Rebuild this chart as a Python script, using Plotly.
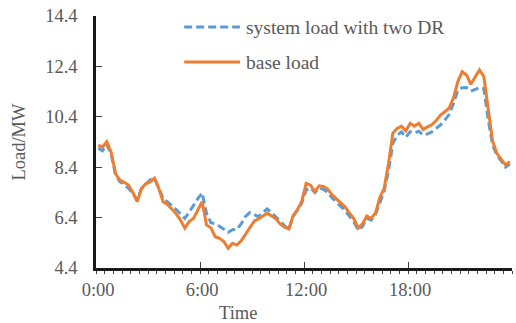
import plotly.graph_objects as go

# 15-minute time slots over one day (hours, slot centres)
hours = [i * 0.25 for i in range(96)]
tick_hours = [0, 6, 12, 18]
tick_labels = ["0:00", "6:00", "12:00", "18:00"]
y_ticks = [4.4, 6.4, 8.4, 10.4, 12.4, 14.4]

base_load = [
    9.28, 9.20, 9.41, 9.00, 8.15, 7.89, 7.80, 7.69, 7.40, 7.03, 7.55, 7.75,
    7.82, 7.96, 7.55, 7.03, 6.92, 6.75, 6.55, 6.30, 5.98, 6.24, 6.37, 6.70,
    7.03, 6.11, 6.00, 5.64, 5.58, 5.45, 5.18, 5.38, 5.31, 5.48, 5.75, 6.02,
    6.26, 6.35, 6.45, 6.57, 6.47, 6.35, 6.15, 6.02, 5.95, 6.48, 6.72, 7.05,
    7.76, 7.69, 7.43, 7.66, 7.64, 7.52, 7.30, 7.15, 7.00, 6.82, 6.58, 6.36,
    5.98, 6.15, 6.46, 6.37, 6.58, 7.20, 7.56, 8.55, 9.75, 9.94, 10.03, 9.84,
    10.14, 10.03, 10.14, 9.90, 10.00, 10.08, 10.25, 10.47, 10.60, 10.75, 11.15, 11.80,
    12.19, 12.06, 11.69, 11.95, 12.26, 12.00, 10.75, 9.45, 8.95, 8.70, 8.49, 8.62,
]

dr_load = [
    9.15, 9.05, 9.30, 8.92, 8.10, 7.83, 7.72, 7.56, 7.35, 7.10, 7.55, 7.72,
    7.90, 7.96, 7.55, 7.16, 7.02, 6.88, 6.72, 6.55, 6.37, 6.62, 6.90, 7.15,
    7.38, 6.57, 6.20, 6.15, 6.06, 5.95, 5.82, 5.92, 5.93, 6.15, 6.45, 6.60,
    6.52, 6.44, 6.60, 6.74, 6.60, 6.42, 6.25, 6.08, 5.93, 6.45, 6.70, 6.98,
    7.50, 7.58, 7.39, 7.57, 7.52, 7.40, 7.18, 7.00, 6.86, 6.68, 6.45, 6.23,
    5.91, 6.05, 6.38, 6.30, 6.52, 7.00, 7.45, 8.25, 9.35, 9.66, 9.80, 9.59,
    9.81, 9.75, 9.83, 9.68, 9.72, 9.80, 9.93, 10.08, 10.27, 10.50, 10.93, 11.45,
    11.55, 11.56, 11.42, 11.50, 11.56, 11.52, 10.30, 9.30, 8.88, 8.65, 8.40, 8.53,
]

BLUE = "#5B9BD5"
ORANGE = "#ED7D31"
GREY = "#595959"
FONT = "Liberation Serif, Times New Roman, serif"
TXT = dict(family=FONT, size=18.5, color=GREY)
LEG_TXT = dict(family=FONT, size=19.5, color=GREY)

x_range = [hours[0] - 0.125, hours[-1] + 0.125]
slot_edges = [x_range[0] + 0.5 * k for k in range(49)]
major_edges = [x_range[0] + 6 * k for k in range(1, 5)]

fig = go.Figure()
fig.add_trace(go.Scatter(
    x=hours, y=dr_load, mode="lines", name="system load with two DR",
    line=dict(color=BLUE, width=3, dash="8px,4px"), showlegend=False,
))
fig.add_trace(go.Scatter(
    x=hours, y=base_load, mode="lines", name="base load",
    line=dict(color=ORANGE, width=3), showlegend=False,
))
# invisible helper trace so the overlay axis carrying the major ticks is drawn
fig.add_trace(go.Scatter(x=[hours[0]], y=[y_ticks[0]], xaxis="x2", mode="markers",
                         marker=dict(opacity=0), showlegend=False, hoverinfo="skip"))

fig.update_layout(
    width=516, height=323,
    margin=dict(l=96, r=4, t=16, b=55),
    paper_bgcolor="white", plot_bgcolor="white",
    font=TXT,
    xaxis=dict(
        range=x_range, tickmode="array", tickvals=tick_hours, ticktext=tick_labels,
        ticks="", showgrid=False, zeroline=False, tickfont=TXT,
        showline=True, linecolor="#1a1a1a", linewidth=2.5,
        ticklabelstandoff=3,
        minor=dict(tickmode="array", tickvals=slot_edges, ticks="outside",
                   ticklen=3, tickwidth=1.2, tickcolor="#404040", showgrid=False),
    ),
    xaxis2=dict(
        overlaying="x", anchor="y", side="bottom", range=x_range,
        tickmode="array", tickvals=major_edges, ticks="inside", ticklen=6,
        tickwidth=1.2, tickcolor="#404040", showticklabels=False,
        showgrid=False, zeroline=False, showline=False,
    ),
    yaxis=dict(
        range=[y_ticks[0], y_ticks[-1]], tickmode="array", tickvals=y_ticks,
        ticks="inside", ticklen=6, tickwidth=1.2, tickcolor="#404040",
        showgrid=False, zeroline=False, tickfont=TXT,
        showline=True, linecolor="#1a1a1a", linewidth=2.5,
        ticklabelstandoff=12,
    ),
)

# axis titles
fig.add_annotation(text="Load/MW", xref="paper", yref="paper", x=-0.186, y=0.5,
                   xanchor="center", yanchor="middle",
                   textangle=-90, showarrow=False, font=TXT)
fig.add_annotation(text="Time", xref="paper", yref="paper", x=0.341, y=-0.178,
                   xanchor="center", yanchor="middle", showarrow=False, font=TXT)

# legend drawn inside the plot area
legend_items = [("system load with two DR", BLUE, "dash", 0.956),
                ("base load", ORANGE, "solid", 0.817)]
for label, color, dash, ly in legend_items:
    fig.add_shape(type="line", xref="paper", yref="paper", x0=0.212, x1=0.346,
                  y0=ly, y1=ly, line=dict(color=color, width=3,
                                          dash="8px,4px" if dash == "dash" else "solid"))
    fig.add_annotation(text=label, xref="paper", yref="paper", x=0.356, y=ly,
                       xanchor="left", yanchor="middle", showarrow=False, font=LEG_TXT)

fig.write_html("out.html")
